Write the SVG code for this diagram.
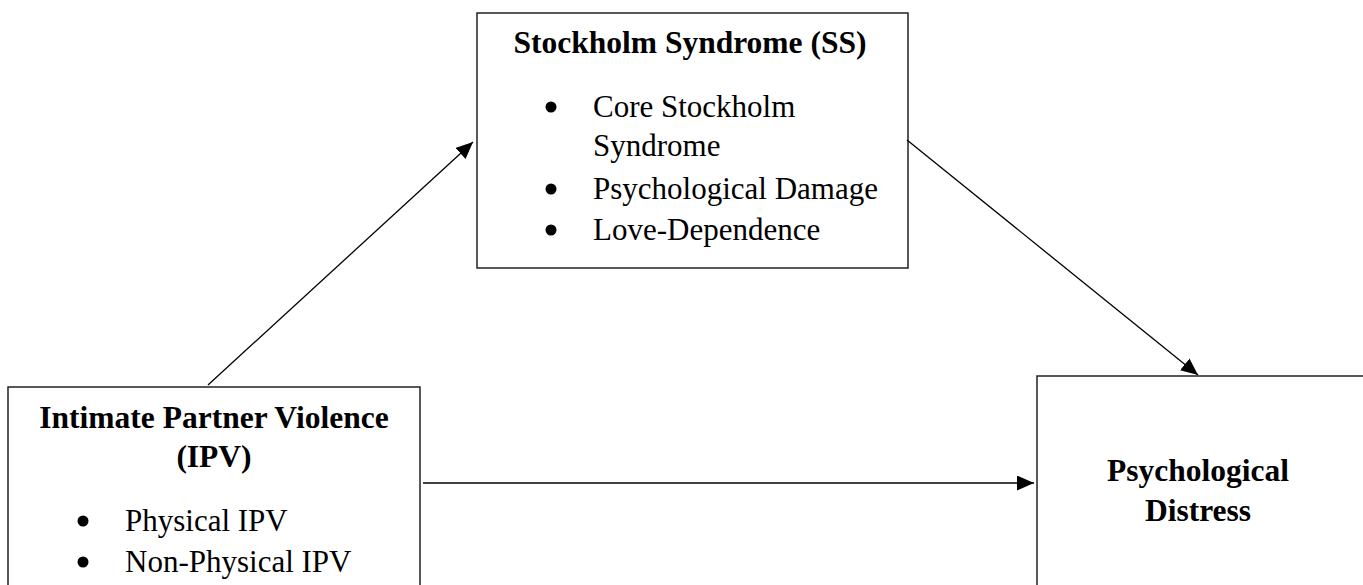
<svg xmlns="http://www.w3.org/2000/svg" width="1363" height="585" viewBox="0 0 1363 585">
<style>
.box{fill:#fff;stroke:#222;stroke-width:1.5}
.t{font-family:"Liberation Serif","Times New Roman",serif;fill:#000}
.b{font-weight:bold;font-size:31.5px}
.r{font-size:31px}
.c{stroke:#000;stroke-width:1.3;fill:none}
</style>
<defs>
<marker id="ah" markerUnits="userSpaceOnUse" markerWidth="20" markerHeight="16" refX="17" refY="7.5" orient="auto">
<path d="M0,0 L17,7.5 L0,15 Z" fill="#000"/>
</marker>
</defs>
<rect width="1363" height="585" fill="#fff"/>
<g id="ss">
<rect class="box" x="477" y="13" width="431" height="255"/>
<text class="t b" x="690" y="53" text-anchor="middle">Stockholm Syndrome (SS)</text>
<circle cx="551" cy="107" r="5.5"/>
<text class="t r" x="593" y="117">Core Stockholm</text>
<text class="t r" x="593" y="156">Syndrome</text>
<circle cx="551" cy="189" r="5.5"/>
<text class="t r" x="593" y="199">Psychological Damage</text>
<circle cx="551" cy="230" r="5.5"/>
<text class="t r" x="593" y="240">Love-Dependence</text>
</g>
<g id="ipv">
<rect class="box" x="8" y="387" width="412" height="210"/>
<text class="t b" x="214" y="428" text-anchor="middle">Intimate Partner Violence</text>
<text class="t b" x="214" y="467" text-anchor="middle">(IPV)</text>
<circle cx="83" cy="521" r="5.5"/>
<text class="t r" x="125" y="531">Physical IPV</text>
<circle cx="83" cy="562" r="5.5"/>
<text class="t r" x="125" y="572">Non-Physical IPV</text>
</g>
<g id="pd">
<rect class="box" x="1037" y="376" width="340" height="220"/>
<text class="t b" x="1198" y="481" text-anchor="middle">Psychological</text>
<text class="t b" x="1198" y="521" text-anchor="middle">Distress</text>
</g>
<g id="connectors">
<line class="c" x1="208" y1="385" x2="473" y2="142" marker-end="url(#ah)"/>
<line class="c" x1="907" y1="140" x2="1198" y2="375" marker-end="url(#ah)"/>
<line class="c" x1="423" y1="483" x2="1034" y2="483" marker-end="url(#ah)"/>
</g>
</svg>
